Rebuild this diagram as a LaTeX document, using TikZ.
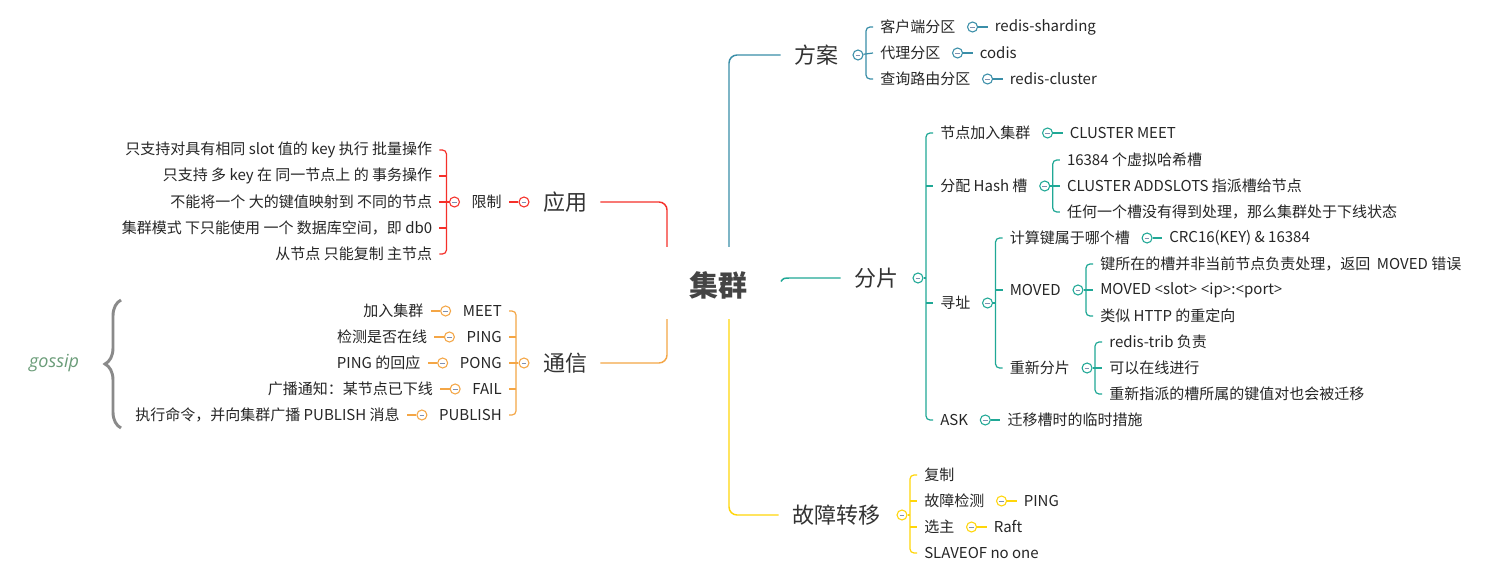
\documentclass[tikz,border=0pt]{standalone}
\usepackage{fontspec}
\setmainfont{Noto Sans CJK SC}
\newfontfamily\gossipfont{Open Sans}
\usetikzlibrary{decorations.pathreplacing}
\definecolor{cA}{HTML}{3A8EA8}
\definecolor{cB}{HTML}{20A896}
\definecolor{cC}{HTML}{FFD60A}
\definecolor{cD}{HTML}{F5302A}
\definecolor{cE}{HTML}{F4A646}
\definecolor{txt}{HTML}{262626}
\definecolor{lvc}{HTML}{333333}
\definecolor{rootc}{HTML}{444444}
\definecolor{minusc}{HTML}{8090B0}
\definecolor{gossipc}{HTML}{6A9C78}
\definecolor{bracec}{HTML}{8A8A8A}
\newcommand{\anglt}{{\gossipfont <}}
\newcommand{\anggt}{{\gossipfont >}}
\tikzset{
  lf/.style={font=\fontsize{11.25}{13}\selectfont, text=txt, inner xsep=5.25pt, inner ysep=2pt},
  lv/.style={font=\fontsize{16.5}{19}\selectfont, text=lvc, inner xsep=9.75pt, inner ysep=2pt},
  mk/.style={circle, draw=#1, fill=white, line width=0.8pt, minimum size=7.5pt, inner sep=0pt,
    path picture={\draw[minusc, line width=0.6pt] ([xshift=-1.8pt]path picture bounding box.center) -- ([xshift=1.8pt]path picture bounding box.center);}},
  br/.style={draw=#1, line width=0.9pt, rounded corners=3pt},
  mainln/.style={draw=#1, line width=1.1pt, rounded corners=6pt},
}
\newcommand{\chainR}[5]{%
  \node[mk=#4] (#2) at ([xshift=7.5pt]#1.east) {};
  \node[lf,anchor=west] (#3) at ([xshift=11.25pt]#2.center) {#5};
  \draw[br=#4] (#2) -- (#3.west);}
\newcommand{\chainL}[5]{%
  \node[mk=#4] (#2) at ([xshift=-7.5pt]#1.west) {};
  \node[lf,anchor=east] (#3) at ([xshift=-11.25pt]#2.center) {#5};
  \draw[br=#4] (#2) -- (#3.east);}
\begin{document}
\begin{tikzpicture}[x=0.75pt,y=-0.75pt]
\useasboundingbox (0,0) rectangle (1500,581);
\fill[white] (0,0) rectangle (1500,581);

% root
\node[font=\fontsize{21.75}{26}\selectfont\bfseries, text=rootc] (root) at (718,285) {集群};
\coordinate (rA) at (729,247);
\coordinate (rC) at (729,319);
\coordinate (rD) at (667,247);
\coordinate (rE) at (667,319);
\coordinate (rB) at (781,281.5);

% ===== 方案 =====
\node[lv] (fa) at (816,55) {方案};
\node[mk=cA] (mfa) at (858,55) {};
\coordinate (bfa) at ([xshift=6pt]mfa.center);
\coordinate (xfa) at ([xshift=11.25pt]mfa.center);
\node[lf,anchor=west] (fa1) at (xfa |- 0,27) {客户端分区};
\node[lf,anchor=west] (fa2) at (xfa |- 0,53) {代理分区};
\node[lf,anchor=west] (fa3) at (xfa |- 0,79) {查询路由分区};
\draw[br=cA] (fa1.west) -| (bfa) |- (fa3.west);
\draw[br=cA] (mfa) -- (fa2.west);
\chainR{fa1}{mfa1}{fa1a}{cA}{redis-sharding}
\chainR{fa2}{mfa2}{fa2a}{cA}{codis}
\chainR{fa3}{mfa3}{fa3a}{cA}{redis-cluster}
\draw[mainln=cA] (rA) |- (fa.west);

% ===== 分片 =====
\node[lv] (fp) at (876,278) {分片};
\node[mk=cB] (mfp) at (918,278) {};
\coordinate (bfp) at ([xshift=6pt]mfp.center);
\coordinate (xfp) at ([xshift=11.25pt]mfp.center);
\node[lf,anchor=west] (fp1) at (xfp |- 0,133) {节点加入集群};
\node[lf,anchor=west] (fp2) at (xfp |- 0,186) {分配 Hash 槽};
\node[lf,anchor=west] (fp3) at (xfp |- 0,303) {寻址};
\node[lf,anchor=west] (fp4) at (xfp |- 0,420) {ASK};
\draw[br=cB] (fp1.west) -| (bfp) |- (fp4.west);
\draw[br=cB] (bfp |- fp2.west) -- (fp2.west);
\draw[br=cB] (bfp |- fp3.west) -- (fp3.west);
\draw[br=cB] (mfp) -- (bfp);
\chainR{fp1}{mfp1}{fp1a}{cB}{CLUSTER MEET}
\chainR{fp4}{mfp4}{fp4a}{cB}{迁移槽时的临时措施}
% 分配 Hash 槽
\node[mk=cB] (mfp2) at ([xshift=7.5pt]fp2.east) {};
\coordinate (bfp2) at ([xshift=6pt]mfp2.center);
\coordinate (xfp2) at ([xshift=11.25pt]mfp2.center);
\node[lf,anchor=west] (fp2a) at (xfp2 |- 0,160) {16384 个虚拟哈希槽};
\node[lf,anchor=west] (fp2b) at (xfp2 |- 0,186) {CLUSTER ADDSLOTS 指派槽给节点};
\node[lf,anchor=west] (fp2c) at (xfp2 |- 0,212) {任何一个槽没有得到处理，那么集群处于下线状态};
\draw[br=cB] (fp2a.west) -| (bfp2) |- (fp2c.west);
\draw[br=cB] (mfp2) -- (fp2b.west);
% 寻址
\node[mk=cB] (mfp3) at ([xshift=7.5pt]fp3.east) {};
\coordinate (bfp3) at ([xshift=6pt]mfp3.center);
\coordinate (xfp3) at ([xshift=11.25pt]mfp3.center);
\node[lf,anchor=west] (fp3a) at (xfp3 |- 0,238) {计算键属于哪个槽};
\node[lf,anchor=west] (fp3b) at (xfp3 |- 0,290) {MOVED};
\node[lf,anchor=west] (fp3c) at (xfp3 |- 0,368) {重新分片};
\draw[br=cB] (fp3a.west) -| (bfp3) |- (fp3c.west);
\draw[br=cB] (bfp3 |- fp3b.west) -- (fp3b.west);
\draw[br=cB] (mfp3) -- (bfp3);
\chainR{fp3a}{mfp3a}{fp3aa}{cB}{CRC16(KEY) \& 16384}
% MOVED
\node[mk=cB] (mfp3b) at ([xshift=7.5pt]fp3b.east) {};
\coordinate (bfp3b) at ([xshift=6pt]mfp3b.center);
\coordinate (xfp3b) at ([xshift=11.25pt]mfp3b.center);
\node[lf,anchor=west] (mv1) at (xfp3b |- 0,264) {键所在的槽并非当前节点负责处理，返回~ MOVED 错误};
\node[lf,anchor=west] (mv2) at (xfp3b |- 0,290) {MOVED \anglt slot\anggt\ \anglt ip\anggt:\anglt port\anggt};
\node[lf,anchor=west] (mv3) at (xfp3b |- 0,316) {类似 HTTP 的重定向};
\draw[br=cB] (mv1.west) -| (bfp3b) |- (mv3.west);
\draw[br=cB] (mfp3b) -- (mv2.west);
% 重新分片
\node[mk=cB] (mfp3c) at ([xshift=7.5pt]fp3c.east) {};
\coordinate (bfp3c) at ([xshift=6pt]mfp3c.center);
\coordinate (xfp3c) at ([xshift=11.25pt]mfp3c.center);
\node[lf,anchor=west] (rs1) at (xfp3c |- 0,342) {redis-trib 负责};
\node[lf,anchor=west] (rs2) at (xfp3c |- 0,368) {可以在线进行};
\node[lf,anchor=west] (rs3) at (xfp3c |- 0,394) {重新指派的槽所属的键值对也会被迁移};
\draw[br=cB] (rs1.west) -| (bfp3c) |- (rs3.west);
\draw[br=cB] (mfp3c) -- (rs2.west);
\draw[draw=cB, line width=1.1pt] (rB) .. controls (783.5,278) .. (792,278) -- (fp.west);

% ===== 故障转移 =====
\node[lv] (gz) at (836,515) {故障转移};
\node[mk=cC] (mgz) at (902,515) {};
\coordinate (bgz) at ([xshift=6pt]mgz.center);
\coordinate (xgz) at ([xshift=11.25pt]mgz.center);
\node[lf,anchor=west] (gz1) at (xgz |- 0,475) {复制};
\node[lf,anchor=west] (gz2) at (xgz |- 0,501) {故障检测};
\node[lf,anchor=west] (gz3) at (xgz |- 0,527) {选主};
\node[lf,anchor=west] (gz4) at (xgz |- 0,553) {SLAVEOF no one};
\draw[br=cC] (gz1.west) -| (bgz) |- (gz4.west);
\draw[br=cC] (bgz |- gz2.west) -- (gz2.west);
\draw[br=cC] (bgz |- gz3.west) -- (gz3.west);
\draw[br=cC] (mgz) -- (bgz);
\chainR{gz2}{mgz2}{gz2a}{cC}{PING}
\chainR{gz3}{mgz3}{gz3a}{cC}{Raft}
\draw[mainln=cC] (rC) |- (gz.west);

% ===== 应用 =====
\node[lv] (yy) at (565,202) {应用};
\node[mk=cD] (myy) at (524,202) {};
\node[lf,anchor=east] (xz) at ([xshift=-11.25pt]myy.center) {限制};
\draw[br=cD] (myy) -- (xz.east);
\node[mk=cD] (mxz) at ([xshift=-7.5pt]xz.west) {};
\coordinate (bxz) at ([xshift=-6pt]mxz.center);
\coordinate (xxz) at ([xshift=-11.25pt]mxz.center);
\node[lf,anchor=east] (xz1) at (xxz |- 0,150) {只支持对具有相同 slot 值的 key 执行 批量操作};
\node[lf,anchor=east] (xz2) at (xxz |- 0,176) {只支持 多 key 在 同一节点上 的 事务操作};
\node[lf,anchor=east] (xz3) at (xxz |- 0,202) {不能将一个 大的键值映射到 不同的节点};
\node[lf,anchor=east] (xz4) at (xxz |- 0,228) {集群模式 下只能使用 一个 数据库空间，即 db0};
\node[lf,anchor=east] (xz5) at (xxz |- 0,254) {从节点 只能复制 主节点};
\draw[br=cD] (xz1.east) -| (bxz) |- (xz5.east);
\draw[br=cD] (bxz |- xz2.east) -- (xz2.east);
\draw[br=cD] (bxz |- xz4.east) -- (xz4.east);
\draw[br=cD] (mxz) -- (xz3.east);
\draw[mainln=cD] (rD) |- (yy.east);

% ===== 通信 =====
\node[lv] (tx) at (565,363) {通信};
\node[mk=cE] (mtx) at (524,363) {};
\coordinate (btx) at ([xshift=-6pt]mtx.center);
\coordinate (xtx) at ([xshift=-11.25pt]mtx.center);
\node[lf,anchor=east] (tx1) at (xtx |- 0,311) {MEET};
\node[lf,anchor=east] (tx2) at (xtx |- 0,337) {PING};
\node[lf,anchor=east] (tx3) at (xtx |- 0,363) {PONG};
\node[lf,anchor=east] (tx4) at (xtx |- 0,389) {FAIL};
\node[lf,anchor=east] (tx5) at (xtx |- 0,415) {PUBLISH};
\draw[br=cE] (tx1.east) -| (btx) |- (tx5.east);
\draw[br=cE] (btx |- tx2.east) -- (tx2.east);
\draw[br=cE] (btx |- tx4.east) -- (tx4.east);
\draw[br=cE] (mtx) -- (tx3.east);
\chainL{tx1}{mtx1}{tx1a}{cE}{加入集群}
\chainL{tx2}{mtx2}{tx2a}{cE}{检测是否在线}
\chainL{tx3}{mtx3}{tx3a}{cE}{PING 的回应}
\chainL{tx4}{mtx4}{tx4a}{cE}{广播通知：某节点已下线}
\chainL{tx5}{mtx5}{tx5a}{cE}{执行命令，并向集群广播 PUBLISH 消息}
\draw[mainln=cE] (rE) |- (tx.east);

% ===== gossip =====
\draw[bracec, line width=2.2pt, decorate, decoration={brace, amplitude=12pt}] (121,428) -- (121,300);
\node[font=\gossipfont\itshape\fontsize{13.5}{16}\selectfont, text=gossipc] (gs) at (54,363) {gossip};
\end{tikzpicture}
\end{document}
